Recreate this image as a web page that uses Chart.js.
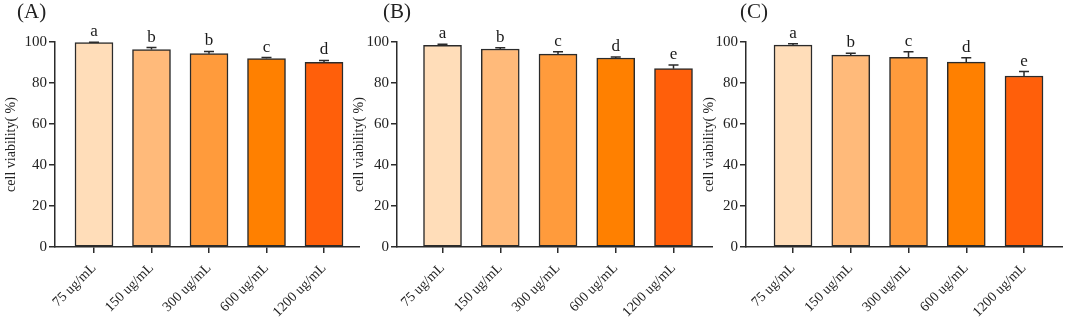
<!DOCTYPE html>
<html>
<head>
<meta charset="utf-8">
<script src="https://cdn.jsdelivr.net/npm/chart.js@4.4.1/dist/chart.umd.min.js"></script>
<style>
    body { margin: 0; background: #fff; width: 1065px; height: 321px; overflow: hidden; position: relative; }
    .panel { position: absolute; top: 0; }
    .tag { position: absolute; top: 1px; font-family: 'Liberation Serif', 'Times New Roman', serif; font-size: 21px; line-height: 1; color: #222; }
</style>
</head>
<body>
<div class="panel" style="left:0px"><canvas id="chartA" width="360" height="321"></canvas></div>
<div class="panel" style="left:350px"><canvas id="chartB" width="363" height="321"></canvas></div>
<div class="panel" style="left:700px"><canvas id="chartC" width="363" height="321"></canvas></div>
<div class="tag" style="left:17px">(A)</div>
<div class="tag" style="left:383px">(B)</div>
<div class="tag" style="left:740px">(C)</div>

<script>
// Data
var doses = ['75 ug/mL', '150 ug/mL', '300 ug/mL', '600 ug/mL', '1200 ug/mL'];
var yTicks = [0, 20, 40, 60, 80, 100];

var viabilityA = [99.7, 96.3, 94.3, 91.9, 90.1];
var errorA = [0.2, 1.0, 1.1, 0.5, 0.9];
var lettersA = ['a', 'b', 'b', 'c', 'd'];

var viabilityB = [98.4, 96.6, 94.1, 92.2, 87.0];
var errorB = [0.5, 0.6, 1.2, 0.5, 1.8];
var lettersB = ['a', 'b', 'c', 'd', 'e'];

var viabilityC = [98.5, 93.6, 92.5, 90.2, 83.4];
var errorC = [0.7, 0.9, 2.8, 2.1, 2.2];
var lettersC = ['a', 'b', 'c', 'd', 'e'];

var barColors = ['#FFDDB9', '#FFBA7A', '#FF9B3C', '#FF8000', '#FF5F0A'];

var serif = "'Liberation Serif', 'Times New Roman', serif";
var ink = '#2b2b2b';

// Error bars (upper only) and significance letters
var errorBarPlugin = {
    id: 'errorBars',
    afterDatasetsDraw: function(chart) {
        var ctx = chart.ctx;
        var yScale = chart.scales.y;
        var meta = chart.getDatasetMeta(0);
        var ds = chart.data.datasets[0];
        ctx.save();
        ctx.strokeStyle = ink;
        ctx.lineWidth = 1.5;
        ctx.fillStyle = '#1a1a1a';
        ctx.font = '17px ' + serif;
        ctx.textAlign = 'center';
        ctx.textBaseline = 'alphabetic';
        meta.data.forEach(function(bar, i) {
            var v = ds.data[i].y;
            var top = yScale.getPixelForValue(v + ds.errors[i]);
            var base = yScale.getPixelForValue(v);
            ctx.beginPath();
            ctx.moveTo(bar.x, base);
            ctx.lineTo(bar.x, top);
            ctx.moveTo(bar.x - 5, top);
            ctx.lineTo(bar.x + 5, top);
            ctx.stroke();
            ctx.fillText(ds.letters[i], bar.x, top - 6);
        });
        ctx.restore();
    }
};

function makePanel(canvasId, values, errors, letters, axisWidth, xMin, xMax, titlePad) {
    var ctx = document.getElementById(canvasId).getContext('2d');
    return new Chart(ctx, {
        type: 'bar',
        data: {
            datasets: [{
                data: values.map(function(v, i) { return { x: i, y: v }; }),
                errors: errors,
                letters: letters,
                backgroundColor: barColors,
                borderColor: ink,
                borderWidth: 1.5,
                borderSkipped: false,
                barThickness: 38
            }]
        },
        options: {
            responsive: false,
            animation: false,
            layout: { padding: { top: 42, left: 0, right: 0, bottom: 0 } },
            plugins: { legend: { display: false }, tooltip: { enabled: false } },
            scales: {
                x: {
                    type: 'linear',
                    min: xMin,
                    max: xMax,
                    offset: false,
                    afterBuildTicks: function(scale) {
                        scale.ticks = doses.map(function(d, i) { return { value: i }; });
                    },
                    afterFit: function(scale) {
                        scale.height = 74;
                        scale.paddingLeft = 0;
                        scale.paddingRight = 0;
                    },
                    grid: { drawOnChartArea: false, offset: false, tickLength: 6, color: ink, lineWidth: 1.5 },
                    border: { color: ink, width: 1.5 },
                    ticks: {
                        autoSkip: false,
                        minRotation: 45,
                        maxRotation: 45,
                        padding: 7,
                        color: '#222',
                        font: { family: serif, size: 14 },
                        callback: function(value) { return doses[value]; }
                    }
                },
                y: {
                    min: 0,
                    max: 100,
                    afterBuildTicks: function(scale) {
                        scale.ticks = yTicks.map(function(t) { return { value: t }; });
                    },
                    afterFit: function(scale) { scale.width = axisWidth; },
                    grid: { drawOnChartArea: false, tickLength: 6, color: ink, lineWidth: 1.5 },
                    border: { color: ink, width: 1.5 },
                    ticks: { padding: 2, color: '#222', font: { family: serif, size: 15 } },
                    title: {
                        display: true,
                        text: 'cell viability( %)',
                        color: '#222',
                        padding: { top: titlePad, bottom: 0 },
                        font: { family: serif, size: 14 }
                    }
                }
            }
        },
        plugins: [errorBarPlugin]
    });
}

makePanel('chartA', viabilityA, errorA, lettersA, 55, -0.678, 4.626, 3);
makePanel('chartB', viabilityB, errorB, lettersB, 47, -0.788, 4.684, 1);
makePanel('chartC', viabilityC, errorC, lettersC, 46, -0.814, 4.675, 1);
</script>
</body>
</html>
